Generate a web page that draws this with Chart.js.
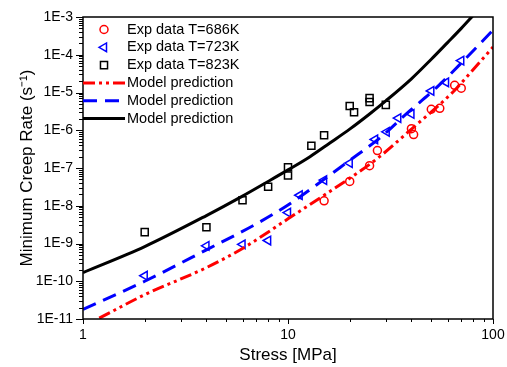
<!DOCTYPE html>
<html>
<head>
<meta charset="utf-8">
<script src="https://cdn.jsdelivr.net/npm/chart.js@4.4.1/dist/chart.umd.min.js"></script>
<style>
  html, body { margin: 0; padding: 0; background: #fff; }
  #wrap { width: 507px; height: 367px; }
</style>
</head>
<body>
<div id="wrap"><canvas id="creep"></canvas></div>
<script>
// experimental points: stress [MPa] vs minimum creep rate [1/s]
var stress686 = [15, 20, 25, 27.3, 40, 41, 50, 55, 65, 70];
var rate686 = [1.35e-8, 4.4e-8, 1.15e-7, 2.9e-7, 1.1e-6, 7.7e-7, 3.6e-6, 3.8e-6, 1.55e-5, 1.3e-5];

var stress723 = [2, 4, 6, 8, 10, 11.4, 15, 20, 26.6, 30.3, 34.5, 40, 50, 59, 70];
var rate723 = [1.4e-10, 8.7e-10, 9.5e-10, 1.2e-9, 6.6e-9, 1.9e-8, 4.8e-8, 1.35e-7, 5.7e-7, 9.1e-7, 2.1e-6, 2.7e-6, 1.1e-5, 1.85e-5, 7e-5];

var stress823 = [2, 4, 6, 8, 10, 10, 13, 15, 20, 21, 25, 25, 30];
var rate823 = [2.0e-9, 2.7e-9, 1.4e-8, 3.2e-8, 1.05e-7, 6.3e-8, 3.9e-7, 7.4e-7, 4.4e-6, 3.0e-6, 7.1e-6, 5.6e-6, 4.7e-6];

// model curves
var modelStress686 = [1.2, 2, 4, 6, 10, 15, 22, 28, 39, 64, 77, 100];
var modelRate686 = [1.05e-11, 4.4e-11, 2.3e-10, 7.4e-10, 4.5e-9, 1.9e-8, 7.6e-8, 2.0e-7, 9.5e-7, 1.05e-5, 3.2e-5, 1.6e-4];

var modelStress723 = [1, 2, 4, 7, 10, 15, 20, 28, 38, 53, 71, 100];
var modelRate723 = [1.8e-11, 1.0e-10, 6.8e-10, 3.3e-9, 1.05e-8, 5.0e-8, 1.6e-7, 6.2e-7, 2.8e-6, 1.35e-5, 6.5e-5, 4.5e-4];

var modelStress823 = [1, 2, 4, 6, 8, 10, 12.8, 16, 20, 25, 30, 40, 50, 60, 70, 80];
var modelRate823 = [1.7e-10, 8.3e-10, 5.5e-9, 1.8e-8, 4.4e-8, 8.9e-8, 2.0e-7, 4.6e-7, 1.07e-6, 2.7e-6, 6.0e-6, 2.3e-5, 7.6e-5, 2.1e-4, 5.0e-4, 1.1e-3];

// labelled ticks
var xTickValues = [1, 10, 100];
var xTickLabels = ['1', '10', '100'];
var yTickValues = [1e-11, 1e-10, 1e-9, 1e-8, 1e-7, 1e-6, 1e-5, 1e-4, 1e-3];
var yTickLabels = ['1E-11', '1E-10', '1E-9', '1E-8', '1E-7', '1E-6', '1E-5', '1E-4', '1E-3'];

var red = '#ff0000', blue = '#0000ff', black = '#000000';
var fontFamily = '"Liberation Sans", Arial, sans-serif';

Chart.defaults.font.family = fontFamily;
Chart.defaults.color = '#000';

function pts(xs, ys) {
  return xs.map(function (x, i) { return { x: x, y: ys[i] }; });
}

// major ticks from the label list plus 2..9 minor ticks in each decade
function logTicks(majors) {
  var out = [];
  for (var i = 0; i < majors.length; i++) {
    out.push({ value: majors[i] });
    if (i < majors.length - 1) {
      for (var m = 2; m <= 9; m++) out.push({ value: majors[i] * m });
    }
  }
  return out;
}

function labelFor(values, labels, v) {
  for (var i = 0; i < values.length; i++) {
    if (Math.abs(Math.log10(v) - Math.log10(values[i])) < 1e-6) return labels[i];
  }
  return '';
}

// box round the plot and outward tick marks
var frame = {
  id: 'frame',
  afterDraw: function (chart) {
    var ctx = chart.ctx, a = chart.chartArea;
    var xs = chart.scales.x, ys = chart.scales.y;
    ctx.save();
    ctx.strokeStyle = '#000';
    ctx.lineWidth = 1;
    xs.ticks.forEach(function (t) {
      var p = Math.round(xs.getPixelForValue(t.value)) + 0.5;
      var len = t.label ? 5 : 3;
      ctx.beginPath();
      ctx.moveTo(p, a.bottom);
      ctx.lineTo(p, a.bottom + len);
      ctx.stroke();
    });
    ys.ticks.forEach(function (t) {
      var p = Math.round(ys.getPixelForValue(t.value)) + 0.5;
      var len = t.label ? 7 : 4;
      ctx.beginPath();
      ctx.moveTo(a.left, p);
      ctx.lineTo(a.left - len, p);
      ctx.stroke();
    });
    ctx.lineWidth = 1.5;
    ctx.strokeRect(a.left, a.top, a.right - a.left, a.bottom - a.top);
    ctx.restore();
  }
};

// legend in the upper left corner of the plot
var cornerLegend = {
  id: 'cornerLegend',
  afterDraw: function (chart) {
    var ctx = chart.ctx;
    var x0 = 83, x1 = 125, textX = 127, y = 29.5, step = 17.8;
    ctx.save();
    ctx.font = '14.5px ' + fontFamily;
    ctx.textBaseline = 'middle';
    ctx.textAlign = 'left';
    chart.data.datasets.forEach(function (ds) {
      ctx.save();
      if (ds.showLine) {
        ctx.strokeStyle = ds.borderColor;
        ctx.lineWidth = ds.borderWidth;
        ctx.setLineDash(ds.borderDash || []);
        ctx.beginPath();
        ctx.moveTo(x0, y);
        ctx.lineTo(x1, y);
        ctx.stroke();
      } else {
        ctx.strokeStyle = ds.pointBorderColor;
        ctx.fillStyle = 'rgba(0,0,0,0)';
        ctx.lineWidth = ds.pointBorderWidth;
        Chart.helpers.drawPoint(ctx, {
          pointStyle: ds.pointStyle,
          rotation: ds.pointRotation || 0,
          radius: ds.pointRadius,
          borderWidth: ds.pointBorderWidth
        }, (x0 + x1) / 2, y);
      }
      ctx.restore();
      ctx.fillStyle = '#000';
      ctx.fillText(ds.label, textX, y);
      y += step;
    });
    ctx.restore();
  }
};

function marker(label, data, color, style, radius, rotation) {
  return {
    label: label,
    data: data,
    showLine: false,
    pointStyle: style,
    pointRadius: radius,
    pointHoverRadius: radius,
    pointRotation: rotation,
    pointBorderColor: color,
    pointBackgroundColor: 'rgba(0,0,0,0)',
    pointBorderWidth: 1.5,
    borderColor: color,
    order: 1
  };
}

function model(data, color, dash) {
  return {
    label: 'Model prediction',
    data: data,
    showLine: true,
    pointRadius: 0,
    pointHoverRadius: 0,
    borderColor: color,
    borderWidth: 3,
    borderDash: dash,
    cubicInterpolationMode: 'monotone',
    fill: false,
    clip: 0,
    order: 0
  };
}

new Chart(document.getElementById('creep'), {
  type: 'scatter',
  data: {
    datasets: [
      marker('Exp data T=686K', pts(stress686, rate686), red, 'circle', 4, 0),
      marker('Exp data T=723K', pts(stress723, rate723), blue, 'triangle', 5, -90),
      marker('Exp data T=823K', pts(stress823, rate823), black, 'rect', 5, 0),
      model(pts(modelStress686, modelRate686), red, [12, 4, 3, 4, 3, 4]),
      model(pts(modelStress723, modelRate723), blue, [14, 8]),
      model(pts(modelStress823, modelRate823), black, [])
    ]
  },
  options: {
    responsive: true,
    maintainAspectRatio: false,
    animation: false,
    events: [],
    layout: { padding: { top: 17, right: 14, left: 0, bottom: 0 } },
    plugins: {
      legend: { display: false },
      tooltip: { enabled: false }
    },
    scales: {
      x: {
        type: 'logarithmic',
        position: 'bottom',
        min: 1,
        max: 100,
        grid: { display: false, drawTicks: false },
        border: { display: false },
        afterBuildTicks: function (scale) { scale.ticks = logTicks(xTickValues); },
        afterFit: function (scale) {
          scale.height = 48;
          scale.paddingLeft = 0;
          scale.paddingRight = 0;
        },
        ticks: {
          autoSkip: false,
          maxRotation: 0,
          padding: 8,
          font: { size: 14 },
          callback: function (v) { return labelFor(xTickValues, xTickLabels, v); }
        },
        title: {
          display: true,
          text: 'Stress [MPa]',
          font: { size: 17 },
          padding: { top: 0, bottom: 1 }
        }
      },
      y: {
        type: 'logarithmic',
        position: 'left',
        min: 1e-11,
        max: 1e-3,
        grid: { display: false, drawTicks: false },
        border: { display: false },
        afterBuildTicks: function (scale) { scale.ticks = logTicks(yTickValues); },
        afterFit: function (scale) {
          scale.width = 83;
          scale.paddingTop = 0;
          scale.paddingBottom = 0;
        },
        ticks: {
          autoSkip: false,
          padding: 10,
          font: { size: 14 },
          callback: function (v) { return labelFor(yTickValues, yTickLabels, v); }
        },
        title: {
          display: true,
          text: 'Minimum Creep Rate (s\u207B\u00B9)',
          font: { size: 17 },
          padding: { top: 17, bottom: 0 }
        }
      }
    }
  },
  plugins: [frame, cornerLegend]
});
</script>
</body>
</html>
